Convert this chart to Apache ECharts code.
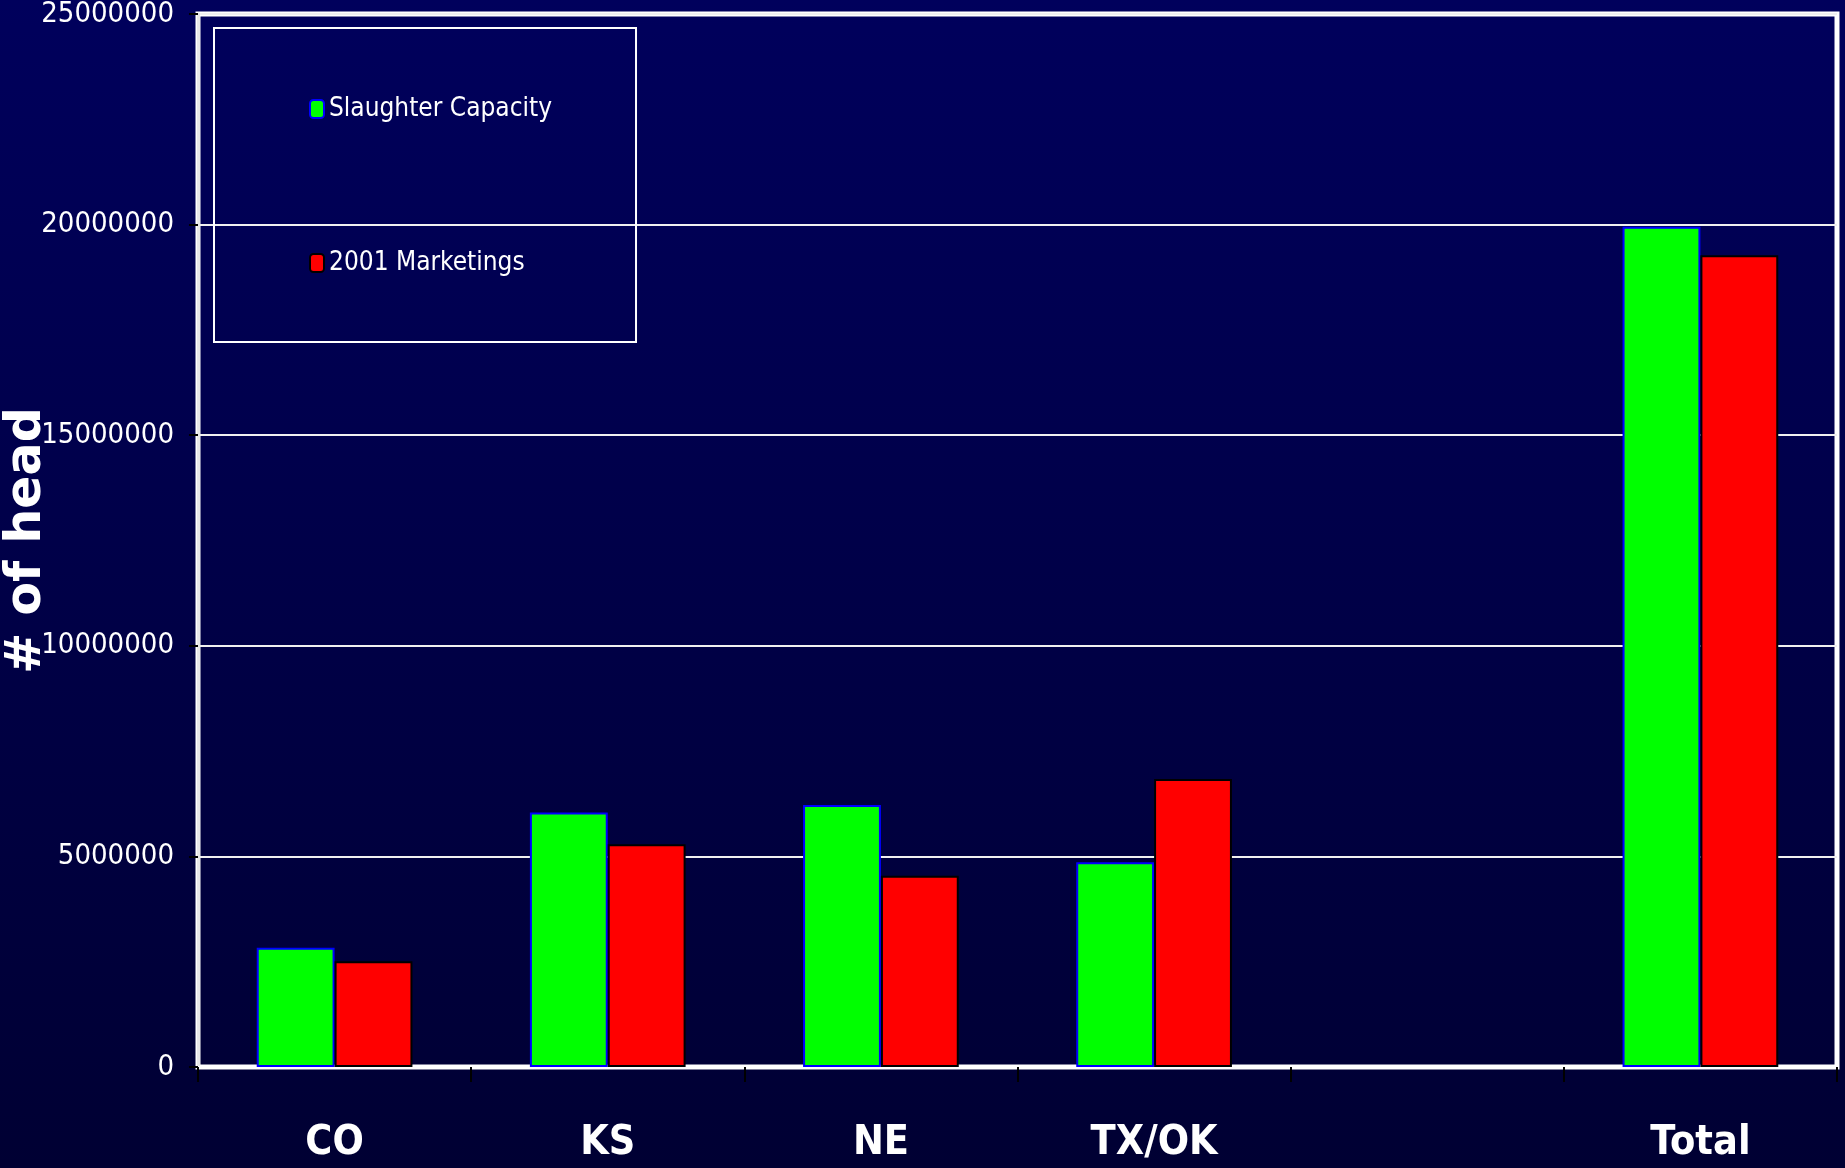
<!DOCTYPE html>
<html>
<head>
<meta charset="utf-8">
<title>Slaughter Capacity vs 2001 Marketings</title>
<script src="https://cdn.jsdelivr.net/npm/echarts@6/dist/echarts.min.js"></script>
<style>
  html, body { margin: 0; padding: 0; }
  #main { width: 1845px; height: 1168px; }
</style>
</head>
<body>
<div id="main"></div>
<script>
// data
var categories = ['CO', 'KS', 'NE', 'TX/OK', '', 'Total'];
var capacity = [2830000, 6040000, 6220000, 4860000, null, 19950000];
var marketings = [2510000, 5290000, 4540000, 6840000, null, 19270000];
var yTicks = [0, 5000000, 10000000, 15000000, 20000000, 25000000];

var narrow = "'Liberation Sans Narrow', 'DejaVu Sans Condensed', sans-serif";

var myChart = echarts.init(document.getElementById('main'));

var option = {
    backgroundColor: new echarts.graphic.LinearGradient(0, 0, 0, 1, [
        { offset: 0, color: '#00005c' },
        { offset: 1, color: '#000033' }
    ]),
    animation: false,
    legend: {
        orient: 'vertical',
        left: 214,
        top: 28,
        padding: [68, 84, 66, 95],
        itemGap: 128,
        itemWidth: 14,
        itemHeight: 18,
        borderColor: '#ffffff',
        borderWidth: 2,
        textStyle: { color: '#ffffff', fontSize: 26, fontFamily: narrow },
        data: ['Slaughter Capacity', '2001 Marketings']
    },
    grid: {
        left: 198,
        right: 8,
        top: 14,
        bottom: 101,
        outerBoundsMode: 'none',
        containLabel: false,
        show: true,
        borderColor: '#ffffff',
        borderWidth: 5
    },
    xAxis: {
        type: 'category',
        data: categories,
        axisLine: { lineStyle: { color: '#ffffff', width: 3 } },
        axisTick: { show: true, length: 15, lineStyle: { color: '#000000', width: 2 } },
        axisLabel: {
            color: '#ffffff',
            fontSize: 41,
            fontWeight: 'bold',
            fontFamily: narrow,
            margin: 56
        }
    },
    yAxis: {
        type: 'value',
        min: yTicks[0],
        max: yTicks[yTicks.length - 1],
        interval: yTicks[1] - yTicks[0],
        name: '# of head',
        nameLocation: 'middle',
        nameRotate: 90,
        nameGap: 146,
        nameMoveOverlap: false,
        nameTextStyle: {
            color: '#ffffff',
            fontSize: 49,
            fontWeight: 'bold',
            fontFamily: "'DejaVu Sans', sans-serif"
        },
        axisLine: { show: true, lineStyle: { color: '#e8e8e8', width: 3 } },
        axisTick: { show: true, length: 9, lineStyle: { color: '#000000', width: 2 } },
        axisLabel: {
            color: '#ffffff',
            fontSize: 29,
            fontFamily: narrow,
            margin: 24,
            formatter: function (v) { return String(v); }
        },
        splitLine: { lineStyle: { color: '#f0f0f0', width: 2 } }
    },
    series: [
        {
            name: 'Slaughter Capacity',
            type: 'bar',
            data: capacity,
            barGap: '0%',
            barCategoryGap: '43%',
            itemStyle: { color: '#00ff00', borderColor: '#0000ff', borderWidth: 2 }
        },
        {
            name: '2001 Marketings',
            type: 'bar',
            data: marketings,
            itemStyle: { color: '#ff0000', borderColor: '#000000', borderWidth: 2 }
        }
    ]
};

myChart.setOption(option);
</script>
</body>
</html>
